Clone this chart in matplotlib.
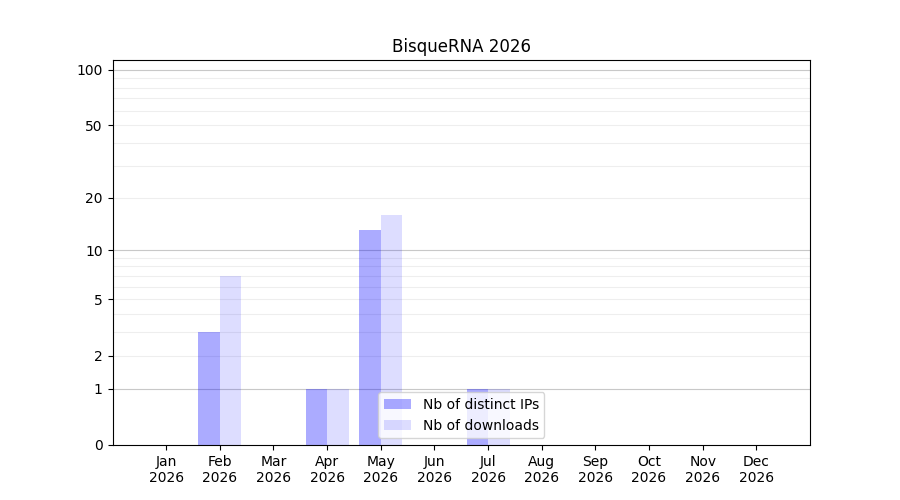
import numpy as np
import matplotlib.pyplot as plt
from matplotlib.ticker import FixedLocator, FixedFormatter

months = ["Jan", "Feb", "Mar", "Apr", "May", "Jun",
          "Jul", "Aug", "Sep", "Oct", "Nov", "Dec"]
year = 2026
distinct_ips = [0, 3, 0, 1, 13, 0, 1, 0, 0, 0, 0, 0]
downloads = [0, 7, 0, 1, 16, 0, 1, 0, 0, 0, 0, 0]

major_ticks = [0, 1, 2, 5, 10, 20, 50, 100]
grid_major = [1, 10, 100]
grid_minor = [2, 3, 4, 5, 6, 7, 8, 9, 20, 30, 40, 50, 60, 70, 80, 90]


def fwd(y):
    return np.log10(1 + np.clip(y, 0, None))


def inv(y):
    return 10 ** y - 1


fig, ax = plt.subplots(figsize=(9, 5), dpi=100)
x = np.arange(len(months))
w = 0.4
ax.bar(x - w / 2, distinct_ips, w, color="blue", alpha=0.33, label="Nb of distinct IPs")
ax.bar(x + w / 2, downloads, w, color="blue", alpha=0.133, label="Nb of downloads")

ax.set_yscale("function", functions=(fwd, inv))
ax.set_ylim(0, 113)
ax.set_xlim(-1, 12)

for v in grid_minor:
    ax.axhline(v, color="#eeeeee", lw=0.8, zorder=0)
for v in grid_major:
    ax.axhline(v, color="#c8c8c8", lw=0.8, zorder=0)

ax.yaxis.set_major_locator(FixedLocator(major_ticks))
ax.yaxis.set_major_formatter(FixedFormatter([str(t) for t in major_ticks]))
ax.yaxis.set_minor_locator(FixedLocator([]))

ax.set_xticks(x)
ax.set_xticklabels([f"{m}\n{year}" for m in months])
ax.set_title(f"BisqueRNA {year}")
ax.legend(loc="lower center")

plt.savefig("out.png")
